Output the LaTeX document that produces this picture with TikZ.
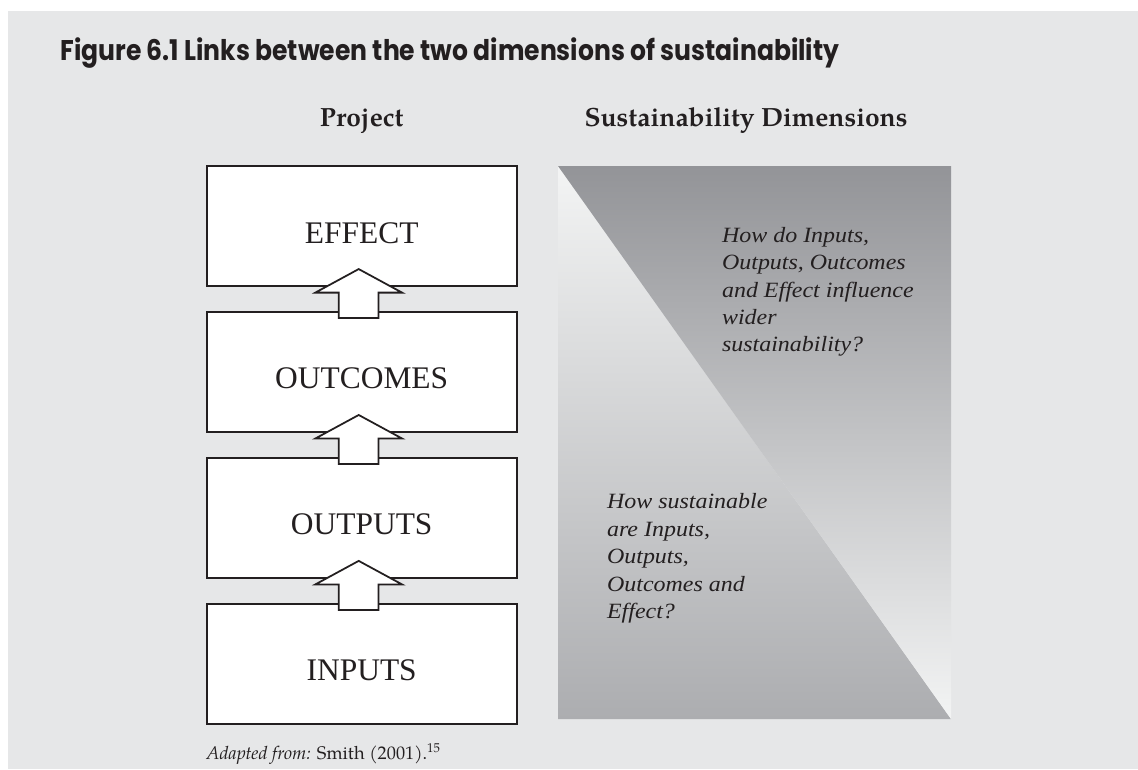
\documentclass[tikz,border=0pt]{standalone}
\usepackage{fontspec}
\setmainfont{Liberation Serif}
\newfontfamily\titlefont{Poppins}[FakeStretch=0.88]
\newfontfamily\headfont{TeX Gyre Pagella}
\newfontfamily\askfont{Liberation Serif}[FakeStretch=1.1]
\usepackage{xcolor}
\usetikzlibrary{positioning, calc, shapes.arrows}

\definecolor{pagebg}{HTML}{E6E7E8}
\definecolor{ink}{HTML}{231F20}
\definecolor{darkgrey}{HTML}{939498}
\definecolor{lightgrey}{HTML}{F3F4F4}
\definecolor{midgrey}{HTML}{ACADB0}

\tikzset{
    stage/.style={draw=ink, line width=1.1pt, fill=white,
        minimum width=6.2cm, minimum height=2.4cm,
        text height=0.72cm, text depth=0.04cm, text=ink,
        font=\fontsize{17.9}{20}\selectfont},
    uparrow/.style={single arrow, draw=ink, fill=white, line width=1pt,
        rotate=90, minimum height=0.98cm, minimum width=1.7cm,
        single arrow head extend=0.47cm, single arrow tip angle=123,
        inner xsep=0pt, inner ysep=0.38cm},
    header/.style={anchor=base, inner sep=0pt, text=ink,
        font=\headfont\bfseries\fontsize{15}{17}\selectfont},
    question/.style={align=left, anchor=north west, inner sep=0pt, text=ink,
        font=\askfont\itshape\fontsize{12.4}{15.6}\selectfont}
}

\begin{document}
\begin{tikzpicture}[x=0.02cm, y=-0.02cm]
        \useasboundingbox (0,0) rectangle (1138,769);
        \fill[pagebg] (8,11) rectangle (1138,769);

        % title and column heads
        \node[anchor=base west, inner sep=0pt, text=ink,
            font=\titlefont\bfseries\fontsize{16.2}{19}\selectfont] (title) at (60,60)
            {Figure 6.1 Links between the two dimensions of sustainability};
        \node[header] (project) at (361.7,126) {Project};
        \node[header] (dims) at (746,126) {Sustainability Dimensions};

        % project stages
        \node[stage] (effect) at (361.7,226) {EFFECT};
        \node[stage, below=0.48cm of effect] (outcomes) {OUTCOMES};
        \node[stage, below=0.48cm of outcomes] (outputs) {OUTPUTS};
        \node[stage, below=0.48cm of outputs] (inputs) {INPUTS};

        \node[uparrow] (up1) at ($(inputs.north)!0.5!(outputs.south)+(-3,0)$) {};
        \node[uparrow] (up2) at ($(outputs.north)!0.5!(outcomes.south)+(-3,0)$) {};
        \node[uparrow] (up3) at ($(outcomes.north)!0.5!(effect.south)+(-3,0)$) {};

        % sustainability panel
        \coordinate (pnw) at (558,166);
        \coordinate (pne) at (951,166);
        \coordinate (psw) at (558,719);
        \coordinate (pse) at (951,719);
        \shade[top color=lightgrey, bottom color=midgrey] (pnw) -- (psw) -- (pse) -- cycle;
        \shade[top color=darkgrey, bottom color=lightgrey] (pnw) -- (pne) -- (pse) -- cycle;

        \node[question] (wider) at (721.7,226.8)
            {How do Inputs,\\Outputs, Outcomes\\and Effect influence\\wider\\sustainability?};
        \node[question] (within) at (606.7,493.4)
            {How sustainable\\are Inputs,\\Outputs,\\Outcomes and\\Effect?};

        % source
        \node[anchor=base west, inner sep=0pt, text=ink,
            font=\headfont\fontsize{10.4}{12.5}\selectfont] (source) at (206,759)
            {\textit{Adapted from:} Smith (2001).\textsuperscript{15}};
\end{tikzpicture}
\end{document}
